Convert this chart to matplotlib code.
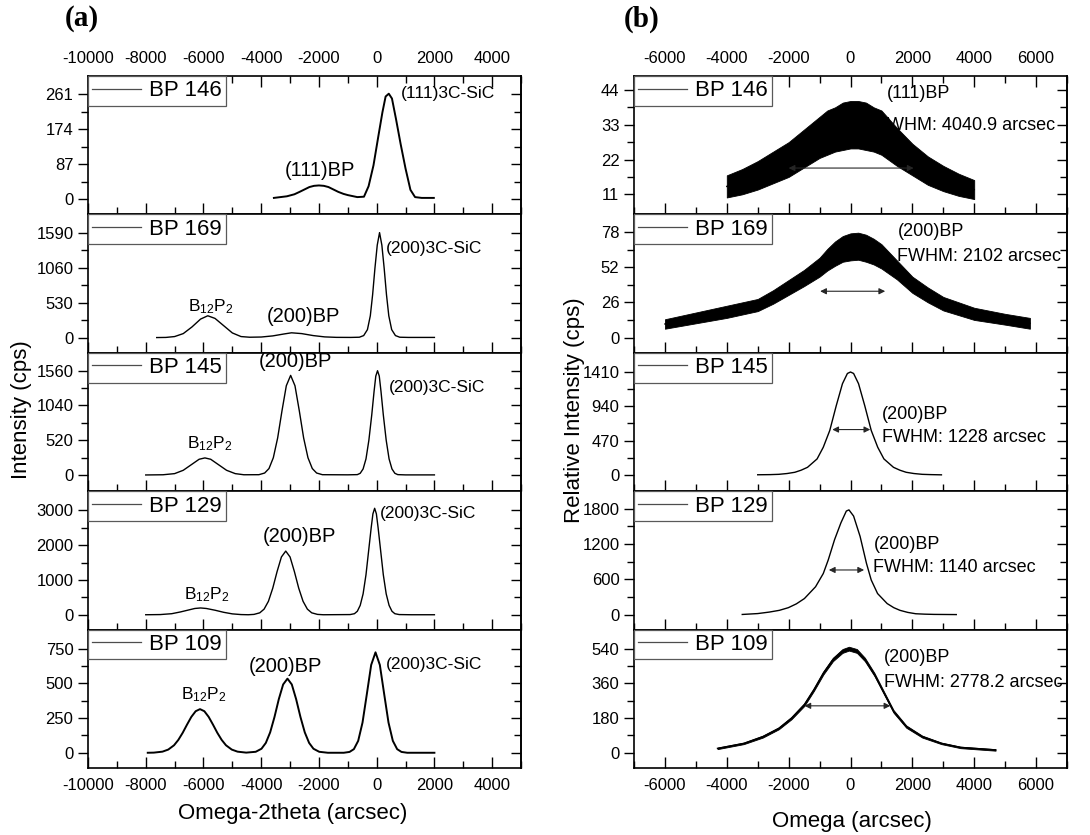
import numpy as np
import matplotlib.pyplot as plt
from matplotlib.ticker import MultipleLocator, FixedLocator
from matplotlib.lines import Line2D

plt.rcParams['font.family'] = ['Liberation Sans', 'DejaVu Sans']
plt.rcParams['mathtext.default'] = 'regular'
plt.rcParams['axes.unicode_minus'] = False

samples = ['BP 146', 'BP 169', 'BP 145', 'BP 129', 'BP 109']

# ---- (a) omega-2theta scans ----
bp146_x = [-3560, -3110, -2850, -2670, -2330, -2170, -2000, -1830, -1670, -1500, -1330, -1150,
           -1000, -670, -440, -280, -110, 55, 200, 310, 420, 530, 670, 830, 1000, 1170,
           1330, 1560, 1980]
bp146_y = [3, 7, 12, 18, 30, 33, 34, 33, 30, 24, 18, 13,
           10, 5, 6, 32, 84, 155, 216, 255, 262, 250, 199, 137, 76, 23,
           5, 3, 3]

bp169_x = [-7620, -7300, -7000, -6700, -6400, -6100, -5850, -5600, -5300, -5000, -4700, -4400,
           -4000, -3600, -3200, -2950, -2600, -2200, -1800, -1400, -900, -600, -450, -320,
           -220, -140, -60, 20, 100, 180, 260, 340, 420, 520, 650, 800, 1100, 1500, 2000]
bp169_y = [0, 2, 15, 60, 160, 280, 330, 290, 180, 70, 15, 5,
           8, 25, 55, 72, 60, 30, 10, 3, 2, 5, 30, 120,
           330, 650, 1050, 1400, 1590, 1400, 1050, 650, 330, 120, 30, 5, 2, 2, 2]

bp145_x = [-8000, -7400, -7000, -6700, -6400, -6150, -5950, -5750, -5500, -5200, -4900, -4600,
           -4080, -3880, -3730, -3580, -3430, -3280, -3130, -2980, -2830, -2680, -2530, -2380,
           -2230, -2080, -1880, -1000, -670, -570, -470, -370, -270, -170, -90, -30, 30, 90,
           150, 230, 330, 430, 530, 630, 730, 1000, 2000]
bp145_y = [0, 3, 20, 70, 160, 235, 255, 235, 160, 70, 20, 3,
           4, 29, 96, 258, 554, 960, 1335, 1490, 1335, 960, 554, 258,
           96, 29, 4, 2, 5, 25, 90, 240, 520, 900, 1250, 1480, 1560, 1480,
           1250, 900, 520, 240, 90, 25, 5, 1, 1]

bp129_x = [-8000, -7500, -7100, -6800, -6500, -6300, -6100, -5900, -5600, -5300, -5000, -4700,
           -4450, -4250, -4050, -3900, -3750, -3600, -3450, -3300, -3150, -3000, -2850, -2700,
           -2550, -2400, -2250, -2050, -1850, -920, -770, -670, -570, -470, -370, -270, -190,
           -130, -70, -10, 50, 130, 230, 330, 430, 530, 630, 780, 1200, 2000]
bp129_y = [0, 5, 30, 80, 140, 180, 195, 180, 130, 70, 25, 5,
           0, 10, 55, 161, 386, 763, 1240, 1660, 1830, 1660, 1240, 763,
           386, 161, 55, 10, 0, 5, 30, 100, 270, 600, 1150, 1900, 2500,
           2900, 3060, 2900, 2500, 1900, 1150, 600, 270, 100, 30, 5, 0, 0]

bp109_x = [-7930, -7720, -7420, -7220, -7020, -6870, -6720, -6570, -6420, -6270, -6120, -5970,
           -5820, -5670, -5520, -5370, -5220, -5020, -4820, -4520, -4190, -3990, -3840, -3690,
           -3540, -3390, -3240, -3090, -2940, -2790, -2640, -2490, -2340, -2190, -1990, -1690,
           -1140, -940, -790, -640, -490, -340, -190, -40, 110, 260, 410, 560, 710, 860, 1060, 2000]
bp109_y = [0, 1, 8, 23, 54, 93, 144, 203, 259, 300, 315, 300,
           259, 203, 144, 93, 54, 23, 8, 1, 7, 29, 71, 147,
           258, 387, 493, 535, 493, 387, 258, 147, 71, 29, 7, 0,
           0, 6, 26, 86, 218, 424, 634, 725, 634, 424, 218, 86, 26, 6, 0, 0]

left_x = [bp146_x, bp169_x, bp145_x, bp129_x, bp109_x]
left_y = [bp146_y, bp169_y, bp145_y, bp129_y, bp109_y]
left_yticks = [[0, 87, 174, 261], [0, 530, 1060, 1590], [0, 520, 1040, 1560],
               [0, 1000, 2000, 3000], [0, 250, 500, 750]]

# ---- (b) omega rocking curves ----
rc146_x = [-4000, -3500, -3000, -2500, -2000, -1500, -1000, -750, -500, -250, 0, 250, 500,
           750, 1000, 1500, 2000, 2500, 3000, 3500, 4000]
rc146_y = [13.5, 15, 17, 19.5, 22, 25.5, 29, 30.5, 31.5, 32.5, 33, 33, 32.5,
           31.5, 30.5, 26, 22, 18.5, 16, 14, 12.5]
rc146_noise = [3.5, 4, 4.5, 5, 5.5, 6, 6.5, 7, 7, 7.5, 7.5, 7.5, 7.5,
               7, 7, 6, 5, 4.5, 4, 3.5, 3]

rc169_x = [-6000, -5000, -4000, -3000, -2500, -2000, -1500, -1000, -750, -500, -250, 0, 250,
           500, 750, 1000, 1250, 1500, 2000, 2500, 3000, 4000, 5000, 5800]
rc169_y = [10, 14.5, 19, 24, 30, 37, 44, 52, 57.5, 62, 65.5, 67, 67.5,
           66, 63.5, 60, 55, 50, 39, 31.5, 25, 17.5, 13.5, 10.5]
rc169_noise = [3.5, 4, 4.5, 4.5, 5, 5.5, 6, 7, 8, 9, 9.5, 10, 10,
               10, 9.5, 9, 8, 7, 6, 5.5, 5, 4.5, 4, 4]

rc145_x = [-3000, -2600, -2320, -2050, -1800, -1600, -1390, -1080, -880, -670, -460, -260,
           -100, 0, 100, 260, 460, 670, 880, 1080, 1390, 1600, 1800, 2050, 2320, 2600, 2940]
rc145_y = [3, 5, 9, 20, 37, 65, 105, 220, 380, 610, 950, 1250,
           1390, 1410, 1390, 1250, 950, 610, 380, 220, 105, 65, 37, 20, 9, 5, 2]

rc129_x = [-3500, -3000, -2630, -2300, -2010, -1750, -1490, -1130, -880, -720, -515, -310,
           -135, -50, 100, 310, 515, 670, 875, 1185, 1400, 1600, 1850, 2110, 2400, 2700, 3420]
rc129_y = [5, 20, 45, 75, 120, 185, 275, 475, 700, 930, 1275, 1560,
           1760, 1780, 1675, 1330, 875, 590, 360, 190, 120, 75, 40, 17, 10, 6, 3]

rc109_x = [-4300, -3450, -2835, -2320, -1910, -1495, -1185, -876, -567, -258, -50, 206,
           464, 773, 1082, 1392, 1804, 2320, 2938, 3557, 4690]
rc109_y = [23, 49, 84, 127, 180, 250, 328, 415, 485, 529, 541, 529,
           485, 407, 311, 215, 136, 84, 49, 28, 15]
rc109_noise = [4, 4, 5, 5, 6, 7, 7, 8, 9, 10, 10, 10, 9, 8, 7, 7, 6, 5, 4, 4, 4]

right_x = [rc146_x, rc169_x, rc145_x, rc129_x, rc109_x]
right_y = [rc146_y, rc169_y, rc145_y, rc129_y, rc109_y]
right_noise = [rc146_noise, rc169_noise, None, None, rc109_noise]
right_yticks = [[11, 22, 33, 44], [0, 26, 52, 78], [0, 470, 940, 1410],
                [0, 600, 1200, 1800], [0, 180, 360, 540]]

reflections = ['(111)BP', '(200)BP', '(200)BP', '(200)BP', '(200)BP']
fwhm = [4040.9, 2102, 1228, 1140, 2778.2]
fwhm_text = ['4040.9', '2102', '1228', '1140', '2778.2']

# axis ranges
left_ylim = [(-38, 306), (-231, 1866), (-243, 1828), (-427, 3551), (-110, 889)]
right_ylim = [(4.65, 48.4), (-11.3, 91), (-222, 1673), (-252, 2097), (-79, 640)]

# figure geometry (pixels)
W, H = 1090, 835
top_px, panel_px = 76, 138.4
col_left = [88, 634]
col_width = 433

fig = plt.figure(figsize=(W / 100, H / 100), dpi=100)


def make_axes(col, i):
    x0 = col_left[col] / W
    y0 = 1 - (top_px + (i + 1) * panel_px) / H
    return fig.add_axes([x0, y0, col_width / W, panel_px / H])


def style_axes(ax, i, xlim, yticks, ylim):
    ax.set_xlim(*xlim)
    ax.set_ylim(*ylim)
    ax.xaxis.set_major_locator(MultipleLocator(2000))
    ax.xaxis.set_minor_locator(MultipleLocator(1000))
    ax.yaxis.set_major_locator(FixedLocator(yticks))
    step = yticks[1] - yticks[0]
    minors = [t + step / 2 for t in yticks[:-1]]
    ax.yaxis.set_minor_locator(FixedLocator(minors))
    ax.tick_params(axis='x', which='both', direction='in', top=(i == 0), bottom=True,
                   labeltop=(i == 0), labelbottom=(i == 4), labelsize=12, pad=7)
    ax.tick_params(axis='x', which='major', length=8, width=1)
    ax.tick_params(axis='x', which='minor', length=5, width=1)
    ax.tick_params(axis='y', which='both', direction='out', right=False, labelsize=12, width=1)
    ax.tick_params(axis='y', which='major', length=7)
    ax.tick_params(axis='y', which='minor', length=5)
    for s in ax.spines.values():
        s.set_linewidth(1.2)
    sec = ax.secondary_yaxis('right')
    sec.yaxis.set_major_locator(FixedLocator(yticks))
    sec.yaxis.set_minor_locator(FixedLocator(minors))
    sec.tick_params(axis='y', which='both', direction='in', labelright=False, width=1)
    sec.tick_params(axis='y', which='major', length=7)
    sec.tick_params(axis='y', which='minor', length=5)
    sec.spines['right'].set_linewidth(1.2)


def add_legend(ax, label):
    h = Line2D([], [], color='0.3', lw=0.9)
    leg = ax.legend([h], [label], loc='upper left', borderaxespad=0, fancybox=False,
                    edgecolor='0.35', framealpha=1, fontsize=16, handlelength=2.2,
                    handletextpad=0.35, borderpad=0.2)
    leg.get_frame().set_linewidth(0.9)
    leg.set_zorder(6)


b12p2 = r'B$_{12}$P$_{2}$'
left_notes = [
    [('(111)BP', -1950, 71, 'center', 14.5), ('(111)3C-SiC', 850, 262, 'left', 12.5)],
    [(b12p2, -5760, 470, 'center', 12.5), ('(200)BP', -2540, 318, 'center', 14.5),
     ('(200)3C-SiC', 330, 1354, 'left', 12.5)],
    [(b12p2, -5790, 470, 'center', 12.5), ('(200)BP', -2830, 1704, 'center', 14.5),
     ('(200)3C-SiC', 430, 1310, 'left', 12.5)],
    [(b12p2, -5870, 590, 'center', 12.5), ('(200)BP', -2690, 2262, 'center', 14.5),
     ('(200)3C-SiC', 100, 2915, 'left', 12.5)],
    [(b12p2, -5990, 420, 'center', 12.5), ('(200)BP', -3170, 626, 'center', 14.5),
     ('(200)3C-SiC', 310, 639, 'left', 12.5)],
]

# (x, y) of the reflection name and the FWHM line; FWHM arrow centre and height
right_notes = [((1170, 42.9), (840, 32.9)), ((1520, 78), (1500, 60)),
               ((1010, 829), (1010, 511)), ((740, 1188), (740, 806)),
               ((1070, 494), (1070, 363))]
arrow_at = [(20, 19.3), (70, 34.2), (25, 622), (-130, 760), (-100, 244)]

for i in range(5):
    ax = make_axes(0, i)
    ax.plot(left_x[i], left_y[i], color='k', lw=1.4 if i in (0, 4) else 1.0)
    style_axes(ax, i, (-10000, 5000), left_yticks[i], left_ylim[i])
    add_legend(ax, samples[i])
    for txt, tx, ty, ha, fs in left_notes[i]:
        ax.text(tx, ty, txt, ha=ha, va='center', fontsize=fs)

    ax = make_axes(1, i)
    x, y, n = right_x[i], right_y[i], right_noise[i]
    if n is not None:
        lo = [a - b for a, b in zip(y, n)]
        hi = [a + b for a, b in zip(y, n)]
        ax.fill_between(x, lo, hi, facecolor='k', edgecolor='k', lw=0.6)
    ax.plot(x, y, color='k', lw=1.0)
    style_axes(ax, i, (-7000, 7000), right_yticks[i], right_ylim[i])
    add_legend(ax, samples[i])
    (rx, ry), (fx, fy) = right_notes[i]
    ax.text(rx, ry, reflections[i], ha='left', va='center', fontsize=13, zorder=7)
    ax.text(fx, fy, 'FWHM: %s arcsec' % fwhm_text[i], ha='left', va='center',
            fontsize=13, clip_on=False, zorder=7)
    cx, cy = arrow_at[i]
    ax.annotate('', xy=(cx - fwhm[i] / 2, cy), xytext=(cx + fwhm[i] / 2, cy),
                arrowprops=dict(arrowstyle='<|-|>', color='0.15', lw=0.8,
                                mutation_scale=9, shrinkA=0, shrinkB=0), zorder=7)

fig.text(82 / W, 1 - 19 / H, '(a)', fontsize=21, fontweight='bold',
         family='Liberation Serif', ha='center', va='center')
fig.text(642 / W, 1 - 19 / H, '(b)', fontsize=21, fontweight='bold',
         family='Liberation Serif', ha='center', va='center')
fig.text(22 / W, 1 - 410 / H, 'Intensity (cps)', rotation=90, fontsize=16,
         ha='center', va='center')
fig.text(575 / W, 1 - 410 / H, 'Relative Intensity (cps)', rotation=90, fontsize=16,
         ha='center', va='center')
fig.text(293 / W, 1 - 813 / H, 'Omega-2theta (arcsec)', fontsize=16, ha='center', va='center')
fig.text(852 / W, 1 - 822 / H, 'Omega (arcsec)', fontsize=16, ha='center', va='center')

fig.savefig('out.png', dpi=100)
